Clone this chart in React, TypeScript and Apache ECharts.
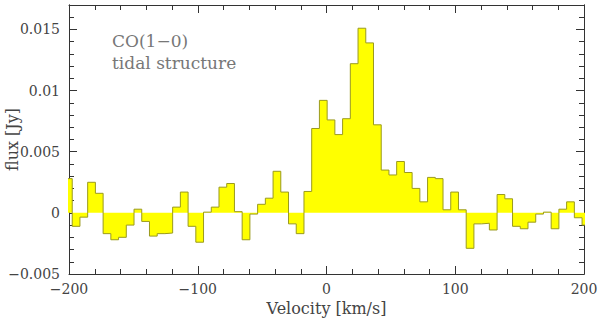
import React, { useEffect, useRef } from "react";
import * as echarts from "echarts";

// Channel centres (km/s); each channel is 6 km/s wide
const velocities = [
  -200.5, -194.5, -188.5, -182.5, -176.5, -170.5, -164.5, -158.5, -152.5, -146.5,
  -140.5, -134.5, -128.5, -122.5, -116.5, -110.5, -104.5, -98.5, -92.5, -86.5,
  -80.5, -74.5, -68.5, -62.5, -56.5, -50.5, -44.5, -38.5, -32.5, -26.5,
  -20.5, -14.5, -8.5, -2.5, 3.5, 9.5, 15.5, 21.5, 27.5, 33.5,
  39.5, 45.5, 51.5, 57.5, 63.5, 69.5, 75.5, 81.5, 87.5, 93.5,
  99.5, 105.5, 111.5, 117.5, 123.5, 129.5, 135.5, 141.5, 147.5, 153.5,
  159.5, 165.5, 171.5, 177.5, 183.5, 189.5, 195.5, 201.5,
];
const channelWidth = 6;

// Flux (Jy)
const flux = [
  0.0028, -0.0011, -0.00035, 0.0025, 0.0016, -0.0017, -0.0022, -0.002, -0.001, 0.0003,
  -0.0007, -0.0019, -0.0017, -0.00165, 0.00047, 0.0017, -0.0011, -0.0024, 0.00006, 0.00047,
  0.0021, 0.0024, 0.0001, -0.0022, -0.0001, 0.0007, 0.0012, 0.0034, 0.0017, -0.0009,
  -0.0017, 0.00175, 0.0069, 0.0092, 0.0076, 0.0064, 0.0077, 0.0122, 0.0151, 0.0139,
  0.0072, 0.0035, 0.0031, 0.0042, 0.0033, 0.002, 0.0009, 0.0029, 0.0028, 0.00025,
  0.0017, 0.00025, -0.0029, -0.0009, -0.00085, -0.0014, 0.0015, 0.00115, -0.0011, -0.0013,
  -0.00076, -0.0001, 0.00006, -0.0013, 0.0003, 0.0009, -0.0004, -0.001,
];

const xTicks = [-200, -100, 0, 100, 200];
const yTicks = [-0.005, 0, 0.005, 0.01, 0.015];

const FONT = "DejaVu Serif";
const AXIS_COLOR = "#333";
const TEXT_COLOR = "#444";

const fmtMinus = (s: string) => s.replace("-", "\u2212");

export default function App() {
  const ref = useRef<HTMLDivElement>(null);

  useEffect(() => {
    if (!ref.current) return;
    const chart = echarts.init(ref.current, null, { renderer: "svg" });

    const stepData: number[][] = [];
    velocities.forEach((c, i) => {
      stepData.push([c - channelWidth / 2, flux[i]]);
      stepData.push([c + channelWidth / 2, flux[i]]);
    });

    const xBase = (pos: "bottom" | "top", labels: boolean) => ({
      type: "value",
      position: pos,
      min: xTicks[0],
      max: xTicks[xTicks.length - 1],
      interval: 100,
      axisLine: { show: true, onZero: false, lineStyle: { color: AXIS_COLOR, width: 1 } },
      axisTick: { show: true, inside: true, length: 8, lineStyle: { color: AXIS_COLOR } },
      minorTick: { show: true, splitNumber: 5, length: 5, lineStyle: { color: AXIS_COLOR } },
      splitLine: { show: false },
      minorSplitLine: { show: false },
      axisLabel: {
        show: labels,
        fontFamily: FONT,
        fontSize: 14,
        color: TEXT_COLOR,
        margin: 8,
        formatter: (v: number) => (xTicks.includes(v) ? fmtMinus(String(v)) : ""),
      },
      ...(labels
        ? {
            name: "Velocity [km/s]",
            nameLocation: "middle",
            nameGap: 26,
            nameMoveOverlap: false,
            nameTextStyle: { fontFamily: FONT, fontSize: 16, color: TEXT_COLOR },
          }
        : {}),
    });

    const yBase = (
      pos: "left" | "right",
      interval: number,
      tickLen: number,
      labels: boolean
    ) => ({
      type: "value",
      position: pos,
      min: -0.005,
      max: 0.017,
      interval,
      axisLine: { show: true, onZero: false, lineStyle: { color: AXIS_COLOR, width: 1 } },
      axisTick: { show: true, inside: true, length: tickLen, lineStyle: { color: AXIS_COLOR } },
      splitLine: { show: false },
      axisLabel: {
        show: labels,
        fontFamily: FONT,
        fontSize: 14,
        color: TEXT_COLOR,
        margin: 9,
        showMaxLabel: false,
        formatter: (v: number) => {
          const r = parseFloat(v.toFixed(4));
          return yTicks.some((t) => Math.abs(t - r) < 1e-9) ? fmtMinus(String(r)) : "";
        },
      },
      ...(labels
        ? {
            name: "flux [Jy]",
            nameLocation: "middle",
            nameGap: 49,
            nameMoveOverlap: false,
            nameTextStyle: { fontFamily: FONT, fontSize: 16, color: TEXT_COLOR },
          }
        : {}),
    });

    chart.setOption({
      animation: false,
      backgroundColor: "#ffffff",
      grid: {
        left: 69,
        right: 16,
        top: 5,
        bottom: 46,
        containLabel: false,
        outerBoundsMode: "none",
      },
      xAxis: [xBase("bottom", true), xBase("top", false)],
      yAxis: [
        yBase("left", 0.005, 8, true),
        yBase("left", 0.001, 5, false),
        yBase("right", 0.005, 8, false),
        yBase("right", 0.001, 5, false),
      ],
      graphic: [
        {
          type: "text",
          x: 112,
          y: 41,
          style: {
            text: "CO(1\u22120)",
            fontFamily: FONT,
            fontSize: 17,
            fill: "#777",
            textVerticalAlign: "middle",
          },
        },
        {
          type: "text",
          x: 112,
          y: 63,
          style: {
            text: "tidal structure",
            fontFamily: FONT,
            fontSize: 17,
            fill: "#777",
            textVerticalAlign: "middle",
          },
        },
      ],
      series: [
        {
          type: "line",
          xAxisIndex: 0,
          yAxisIndex: 0,
          data: stepData,
          showSymbol: false,
          symbol: "none",
          clip: true,
          lineStyle: { color: "#9a9a1e", width: 1 },
          areaStyle: { color: "#ffff00", opacity: 1, origin: "auto" },
          z: 1,
        },
      ],
    });

    return () => chart.dispose();
  }, []);

  return (
    <div
      ref={ref}
      style={{ position: "fixed", left: 0, top: 0, width: 600, height: 320 }}
    />
  );
}
